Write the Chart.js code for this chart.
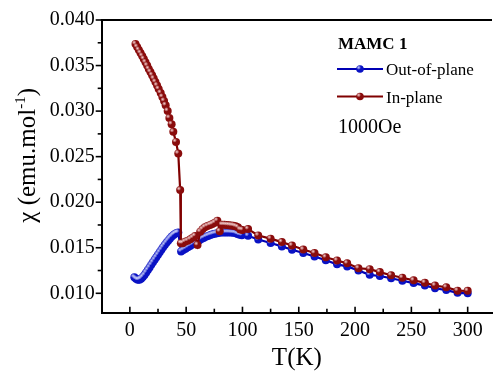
<!DOCTYPE html>
<html><head><meta charset="utf-8">
<script src="https://cdn.jsdelivr.net/npm/chart.js@4.4.1/dist/chart.umd.min.js"></script>
<style>html,body{margin:0;padding:0;background:#fff;overflow:hidden}</style>
</head><body>
<canvas id="c" width="496" height="372" style="width:496px;height:372px;display:block"></canvas>
<script>
// ---- data ----
const outTemps = [4,5.5,7,8.5,10,11.5,13,14.5,16,17.5,19,20.5,22,23.5,25,26.5,28,29.5,31,32.5,34,35.5,37,38.5,40,41.5,43,
  45.5,47.5,49.5,51.5,53.5,55.5,57.5,59.5,61.5,63.5,65.5,67.5,69.5,71.5,73.5,75.5,77.5,79.5,81.5,83.5,85.5,87.5,89.5,91.5,93.5,95.5,97.5,99.5,
  105,114,125,135,144,154,164,174,184,193,203,213,222,232,242,252,262,271,281,291,300];
const outChi = [0.01175,0.01160,0.01148,0.01150,0.01160,0.01178,0.01200,0.01228,0.01255,0.01283,0.01312,0.01340,0.01368,0.01395,0.01422,0.01450,0.01478,0.01505,0.01530,0.01555,0.01578,0.01600,0.01620,0.01638,0.01652,0.01663,0.01668,
  0.01460,0.01475,0.01490,0.01505,0.01520,0.01535,0.01550,0.01565,0.01580,0.01595,0.01608,0.01620,0.01630,0.01640,0.01648,0.01655,0.01660,0.01664,0.01667,0.01668,0.01668,0.01668,0.01667,0.01665,0.01662,0.01652,0.01642,0.01638,
  0.01632,0.01590,0.01552,0.01515,0.01478,0.01442,0.01404,0.01362,0.01318,0.01295,0.01250,0.01203,0.01190,0.01165,0.01138,0.01112,0.01085,0.01055,0.01035,0.01005,0.01000];
const inTemps = [5.0,6.5,8.0,9.5,11.0,12.4,13.9,15.4,16.8,18.3,19.8,21.2,22.7,24.2,25.6,27.4,28.9,30.4,31.8,33.6,35.1,37.1,38.6,41.0,43.0,44.7,
  45.3,47.0,49.0,51.3,53.7,55.8,57.9,60.1,62.5,64.5,66.6,68.9,71.3,73.3,75.4,77.7,79.8,82.0,84.0,86.0,88.0,90.0,92.0,94.0,96.0,98.0,100.0,
  105,114,125,135,144,154,164,174,184,193,203,213,222,232,242,252,262,271,281,291,300];
const inChi = [0.03737,0.03704,0.03671,0.03638,0.03605,0.03572,0.03536,0.03500,0.03463,0.03430,0.03394,0.03357,0.03320,0.03281,0.03243,0.03200,0.03156,0.03112,0.03065,0.03002,0.02925,0.02856,0.02772,0.02662,0.02535,0.02133,
  0.01550,0.01550,0.01566,0.01577,0.01592,0.01610,0.01629,0.01530,0.01676,0.01702,0.01724,0.01738,0.01750,0.01760,0.01775,0.01797,0.01680,0.01752,0.01752,0.01750,0.01748,0.01745,0.01742,0.01735,0.01725,0.01700,0.01695,
  0.01705,0.01635,0.01600,0.01562,0.01524,0.01480,0.01442,0.01395,0.01360,0.01329,0.01275,0.01265,0.01233,0.01198,0.01171,0.01142,0.01116,0.01085,0.01066,0.01029,0.01027];
const xTicks = [0,50,100,150,200,250,300];
const xMinorTicks = [25,75,125,175,225,275];
const yTicks = [0.010,0.015,0.020,0.025,0.030,0.035,0.040];
const yMinorTicks = [0.0125,0.0175,0.0225,0.0275,0.0325,0.0375];
const seriesNames = ['Out-of-plane','In-plane'];
const legendTitle = 'MAMC 1';
const fieldNote = '1000Oe';
const xTitle = 'T(K)';

const FONT = '"Liberation Serif", "Times New Roman", serif';
const BLUE = '#0a12c4', BLUE_LINE = '#0000b4';
const RED = '#8a0c0c', RED_LINE = '#800000';
const R = 4;

const toPts = (xs, ys) => xs.map((t, i) => ({x: t, y: ys[i]}));

function line(ctx, x1, y1, x2, y2){ ctx.beginPath(); ctx.moveTo(x1,y1); ctx.lineTo(x2,y2); ctx.stroke(); }
function ball(ctx, x, y, r, fill, hl){
  ctx.beginPath(); ctx.arc(x, y, r, 0, Math.PI*2); ctx.fillStyle = fill; ctx.fill();
  const g = ctx.createRadialGradient(x - r*0.35, y - r*0.4, 0, x - r*0.35, y - r*0.4, r*0.6);
  g.addColorStop(0, hl); g.addColorStop(1, 'rgba(255,255,255,0)');
  ctx.beginPath(); ctx.arc(x, y, r, 0, Math.PI*2); ctx.fillStyle = g; ctx.fill();
}

const highlight = {
  id: 'highlight',
  afterDatasetDraw(chart, args){
    const ctx = chart.ctx, meta = args.meta;
    const hl = args.index === 0 ? 'rgba(200,210,255,0.95)' : 'rgba(255,215,215,0.95)';
    ctx.save();
    meta.data.forEach(p => {
      const g = ctx.createRadialGradient(p.x - 1.4, p.y - 1.6, 0, p.x - 1.4, p.y - 1.6, 2.3);
      g.addColorStop(0, hl); g.addColorStop(1, 'rgba(255,255,255,0)');
      ctx.beginPath(); ctx.arc(p.x, p.y, R, 0, Math.PI*2); ctx.fillStyle = g; ctx.fill();
    });
    ctx.restore();
  }
};

const deco = {
  id: 'deco',
  afterDraw(chart){
    const {ctx, chartArea: a, scales: {x, y}} = chart;
    ctx.save();
    ctx.strokeStyle = '#000'; ctx.lineWidth = 1.6;
    xTicks.forEach(v => { const p = x.getPixelForValue(v); line(ctx, p, a.bottom, p, a.bottom - 6); });
    xMinorTicks.forEach(v => { const p = x.getPixelForValue(v); line(ctx, p, a.bottom, p, a.bottom - 4); });
    yTicks.forEach(v => { const p = y.getPixelForValue(v); line(ctx, a.left, p, a.left - 6, p); });
    yMinorTicks.forEach(v => { const p = y.getPixelForValue(v); line(ctx, a.left, p, a.left - 4, p); });
    ctx.lineWidth = 2;
    line(ctx, a.left - 1, a.top, a.right, a.top);

    // y axis title with superscript
    ctx.fillStyle = '#000';
    ctx.translate(35, (a.top + a.bottom) / 2 - 11);
    ctx.rotate(-Math.PI / 2);
    ctx.textBaseline = 'alphabetic';
    const big = '25px ' + FONT, small = '15px ' + FONT;
    const p1 = '\u03c7 (emu.mol', p2 = '-1', p3 = ')';
    ctx.font = big; const w1 = ctx.measureText(p1).width, w3 = ctx.measureText(p3).width;
    ctx.font = small; const w2 = ctx.measureText(p2).width;
    let sx = -(w1 + w2 + w3) / 2;
    ctx.font = big; ctx.fillText(p1, sx, 0); sx += w1;
    ctx.font = small; ctx.fillText(p2, sx, -10); sx += w2;
    ctx.font = big; ctx.fillText(p3, sx, 0);
    ctx.setTransform(1,0,0,1,0,0);

    // legend
    ctx.textAlign = 'left';
    ctx.font = 'bold 17px ' + FONT;
    ctx.fillText(legendTitle, 338, 49);
    const rows = [[69, BLUE_LINE, BLUE, 'rgba(200,210,255,0.95)'], [96.5, RED_LINE, RED, 'rgba(255,215,215,0.95)']];
    rows.forEach((r, i) => {
      ctx.strokeStyle = r[1]; ctx.lineWidth = 2.2;
      line(ctx, 337, r[0], 383, r[0]);
      ball(ctx, 360, r[0], 3.8, r[2], r[3]);
      ctx.fillStyle = '#000'; ctx.font = '17px ' + FONT;
      ctx.fillText(seriesNames[i], 386, r[0] + 6);
    });
    ctx.font = '20px ' + FONT;
    ctx.fillText(fieldNote, 338, 133);
    ctx.restore();
  }
};

new Chart(document.getElementById('c'), {
  type: 'line',
  data: {
    datasets: [
      {label: seriesNames[0], data: toPts(outTemps, outChi), borderColor: BLUE_LINE, backgroundColor: BLUE,
       pointBackgroundColor: BLUE, pointBorderWidth: 0, pointRadius: R, borderWidth: 2.2, order: 1, tension: 0},
      {label: seriesNames[1], data: toPts(inTemps, inChi), borderColor: RED_LINE, backgroundColor: RED,
       pointBackgroundColor: RED, pointBorderWidth: 0, pointRadius: R, borderWidth: 2.2, order: 0, tension: 0}
    ]
  },
  options: {
    responsive: false, animation: false, devicePixelRatio: 1,
    layout: {padding: {top: 20, right: 0, left: 0, bottom: 0}},
    plugins: {legend: {display: false}, tooltip: {enabled: false}},
    scales: {
      x: {type: 'linear', min: -25, max: 321.6,
          afterBuildTicks: s => { s.ticks = xTicks.map(v => ({value: v})); },
          afterFit: s => { s.height = 59.3; },
          grid: {display: false, drawTicks: false},
          border: {display: true, color: '#000', width: 2},
          ticks: {color: '#000', padding: 6, font: {family: FONT, size: 20}, maxRotation: 0, callback: v => String(v)},
          title: {display: true, text: xTitle, color: '#000', font: {family: FONT, size: 25, lineHeight: 1.05}, padding: {top: 0, bottom: 0}}},
      y: {type: 'linear', min: 0.00787, max: 0.040,
          afterBuildTicks: s => { s.ticks = yTicks.map(v => ({value: v})); },
          afterFit: s => { s.width = 101.7; },
          grid: {display: false, drawTicks: false},
          border: {display: true, color: '#000', width: 2},
          ticks: {color: '#000', padding: 7, font: {family: FONT, size: 20}, callback: v => v.toFixed(3)}}
    }
  },
  plugins: [highlight, deco]
});
</script>
</body></html>
